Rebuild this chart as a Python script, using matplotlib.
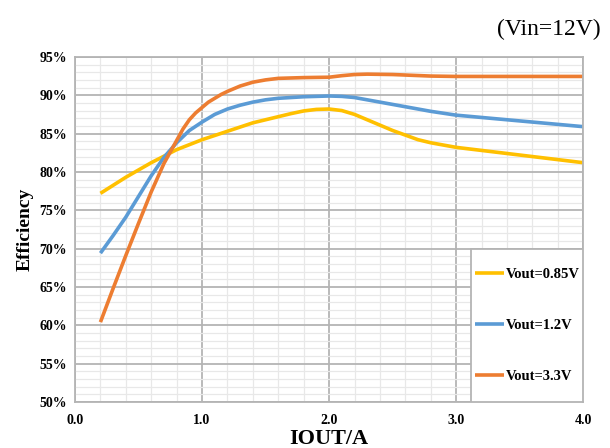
import matplotlib.pyplot as plt
from matplotlib.patches import Rectangle
from matplotlib.ticker import MultipleLocator, FuncFormatter

plt.rcParams['font.family'] = ['Liberation Serif', 'DejaVu Serif']

iout_085 = [0.2, 0.4, 0.6, 0.8, 1.0, 1.2, 1.4, 1.6, 1.7, 1.8, 1.9, 2.0, 2.1, 2.2, 2.3, 2.4, 2.5, 2.6, 2.7,
            2.8, 2.9, 3.0, 3.2, 3.4, 3.6, 3.8, 4.0]
eff_085 = [77.2, 79.3, 81.2, 82.9, 84.2, 85.3, 86.4, 87.2, 87.6, 87.95, 88.15, 88.2, 88.0, 87.5, 86.8, 86.1,
           85.4, 84.8, 84.2, 83.8, 83.5, 83.2, 82.8, 82.4, 82.0, 81.6, 81.2]

iout_12 = [0.2, 0.3, 0.4, 0.5, 0.6, 0.7, 0.8, 0.9, 1.0, 1.1, 1.2, 1.3, 1.4, 1.5, 1.6, 1.7, 1.8, 1.9, 2.0,
           2.1, 2.2, 2.3, 2.4, 2.6, 2.8, 3.0, 3.2, 3.4, 3.6, 3.8, 4.0]
eff_12 = [69.4, 71.7, 74.1, 76.8, 79.5, 81.9, 83.8, 85.4, 86.5, 87.5, 88.2, 88.7, 89.1, 89.4, 89.6, 89.7,
          89.8, 89.85, 89.9, 89.85, 89.7, 89.4, 89.1, 88.5, 87.9, 87.4, 87.1, 86.8, 86.5, 86.2, 85.9]

iout_33 = [0.2, 0.3, 0.4, 0.5, 0.6, 0.7, 0.8, 0.85, 0.9, 0.95, 1.0, 1.05, 1.1, 1.15, 1.2, 1.3, 1.4, 1.5,
           1.6, 1.8, 2.0, 2.1, 2.2, 2.3, 2.5, 2.8, 3.0, 3.5, 4.0]
eff_33 = [60.4, 64.8, 69.1, 73.3, 77.4, 81.1, 84.1, 85.6, 86.8, 87.7, 88.4, 89.1, 89.6, 90.1, 90.5, 91.2,
          91.7, 92.0, 92.2, 92.3, 92.35, 92.55, 92.7, 92.75, 92.7, 92.5, 92.45, 92.45, 92.45]

labels = ['Vout=0.85V', 'Vout=1.2V', 'Vout=3.3V']
colors = ['#FFC000', '#5B9BD5', '#ED7D31']

fig = plt.figure(figsize=(6.1, 4.48), dpi=100)
ax = fig.add_axes([0.123, 0.103, 0.833, 0.77])

series = [(iout_085, eff_085), (iout_12, eff_12), (iout_33, eff_33)]
for (x, y), lab, c in zip(series, labels, colors):
    ax.plot(x, y, color=c, lw=2.6, label=lab, solid_capstyle='butt', solid_joinstyle='round')

ax.set_xlim(0, 4)
ax.set_ylim(50, 95)
ax.xaxis.set_major_locator(MultipleLocator(1))
ax.xaxis.set_minor_locator(MultipleLocator(0.2))
ax.yaxis.set_major_locator(MultipleLocator(5))
ax.yaxis.set_minor_locator(MultipleLocator(1))
ax.xaxis.set_major_formatter(FuncFormatter(lambda v, p: '%.1f' % v))
ax.yaxis.set_major_formatter(FuncFormatter(lambda v, p: '%d%%' % v))
ax.grid(which='major', color='#b4b4b4', lw=1.3)
ax.grid(which='minor', color='#e8e8e8', lw=0.9)
ax.set_axisbelow(True)
ax.tick_params(which='both', length=0, labelsize=10)
ax.tick_params(axis='x', pad=9)
ax.tick_params(axis='y', pad=6)
for t in ax.get_xticklabels() + ax.get_yticklabels():
    t.set_fontweight('bold')
for s in ax.spines.values():
    s.set_color('#b4b4b4')
    s.set_linewidth(1.3)

ax.set_xlabel('IOUT/A', fontsize=16, fontweight='bold', labelpad=1)
ax.set_ylabel('Efficiency', fontsize=14, fontweight='bold', labelpad=4)
fig.text(0.985, 0.935, '(Vin=12V)', fontsize=17, ha='right', va='center')

# legend box sits in the lower right corner, filling it to the axes edge
ax.add_patch(Rectangle((0.78, 0.0), 0.22, 0.443, transform=ax.transAxes, facecolor='white',
                       edgecolor='#b4b4b4', lw=1.3, zorder=4))
leg = ax.legend(loc='center', bbox_to_anchor=(0.78, 0.0, 0.22, 0.443), frameon=False,
                handlelength=2.0, handletextpad=0.1, labelspacing=2.6,
                borderaxespad=0, prop={'weight': 'bold', 'size': 10.5})
leg.set_zorder(5)

fig.savefig('out.png', dpi=100)
